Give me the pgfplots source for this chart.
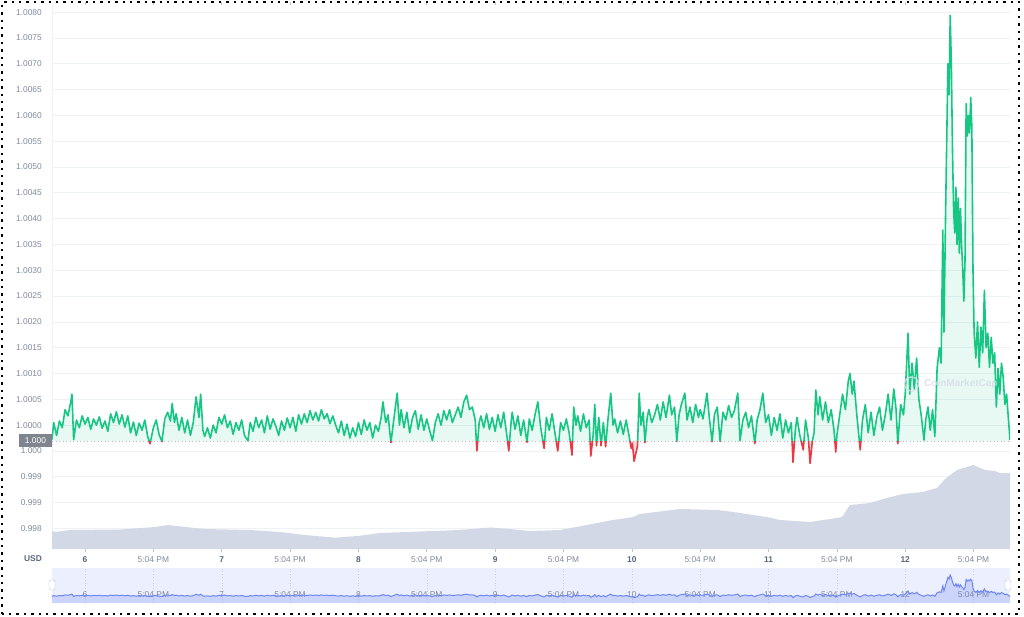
\documentclass[border=0pt]{standalone}
\usepackage{fontspec}
\setmainfont{Liberation Sans}
\usepackage{pgfplots}
\pgfplotsset{compat=1.18}
\usepackage{pgfplotstable}

\definecolor{cmcgreen}{HTML}{16C784}
\definecolor{cmcred}{HTML}{EA3943}
\definecolor{gridc}{HTML}{EFF2F5}
\definecolor{labc}{HTML}{808A9D}
\definecolor{dayc}{HTML}{58667E}
\definecolor{volc}{HTML}{D3D8E6}
\definecolor{navbg}{HTML}{EBEFFE}
\definecolor{navline}{HTML}{6F86F5}
\definecolor{boxc}{HTML}{80848E}
\definecolor{wmark}{HTML}{D8DCE8}

\newcommand\dd[1]{\textcolor{dayc}{\bfseries #1}}
\newcommand\tpm{\textcolor{labc}{5:04 PM}}

% price, x in hours from day 6 00:00
\pgfplotstableread{
h p
-5.8 0.99972
-5.5 1.00005
-5.0 0.99980
-4.5 1.00008
-4.0 0.99995
-3.5 1.00030
-3.0 1.00018
-2.5 1.00045
-2.3 1.00060
-2.0 0.99972
-1.5 1.00010
-1.0 0.99995
-0.5 1.00018
0.0 1.00002
0.5 1.00015
1.0 0.99992
1.5 1.00012
2.0 1.00000
2.5 1.00016
3.0 0.99994
3.5 1.00008
4.0 0.99988
4.5 1.00022
5.0 1.00005
5.5 1.00026
6.0 1.00002
6.5 1.00020
7.0 0.99996
7.5 1.00018
8.0 0.99985
8.5 1.00006
9.0 0.99980
9.5 1.00004
10.0 0.99990
10.5 1.00010
11.0 0.99978
11.4 0.99964
12.0 0.99995
12.5 1.00010
13.0 0.99982
13.5 0.99968
14.0 1.00012
14.5 1.00025
15.0 1.00008
15.3 1.00042
15.7 1.00005
16.0 1.00022
16.5 0.99990
17.0 1.00015
17.5 0.99985
18.0 1.00010
18.5 0.99980
19.0 1.00005
19.5 1.00055
20.0 1.00015
20.3 1.00060
20.7 0.99990
21.0 0.99978
21.5 0.99995
22.0 0.99975
22.5 1.00000
23.0 0.99985
23.5 1.00015
24.0 1.00002
24.5 1.00020
25.0 0.99995
25.5 1.00008
26.0 0.99982
26.5 1.00005
27.0 0.99990
27.5 1.00010
28.0 0.99980
28.6 0.99970
29.0 1.00005
29.5 0.99988
30.0 1.00015
30.5 0.99995
31.0 1.00010
31.5 0.99985
32.0 1.00018
32.5 0.99992
33.0 1.00012
33.5 0.99998
34.0 0.99980
34.5 1.00008
35.0 0.99990
35.5 1.00014
36.0 0.99995
36.5 1.00015
37.0 0.99988
37.5 1.00020
38.0 1.00002
38.5 1.00022
39.0 1.00005
39.5 1.00028
40.0 1.00010
40.5 1.00025
41.0 1.00008
41.5 1.00030
42.0 1.00012
42.5 1.00022
43.0 1.00003
43.5 1.00018
44.0 1.00000
44.5 0.99985
45.0 1.00008
45.5 0.99980
46.0 1.00002
46.5 0.99975
47.0 0.99995
47.5 0.99978
48.0 1.00005
48.5 0.99982
49.0 1.00010
49.5 0.99990
50.0 1.00005
50.5 0.99975
51.0 1.00000
51.5 0.99988
52.0 1.00015
52.3 1.00045
52.8 1.00005
53.2 1.00020
53.7 0.99966
54.2 1.00010
54.8 1.00062
55.2 1.00000
55.5 1.00030
56.0 0.99995
56.5 1.00025
57.0 0.99985
57.5 1.00015
58.0 1.00028
58.5 0.99992
59.0 1.00020
59.5 0.99990
60.0 1.00012
60.5 0.99990
61.0 0.99970
61.5 1.00005
62.0 1.00022
62.5 1.00000
63.0 1.00028
63.5 1.00010
64.0 1.00030
64.5 1.00005
65.0 1.00020
65.5 1.00035
66.0 1.00015
66.5 1.00045
67.0 1.00058
67.5 1.00030
68.0 1.00035
68.5 1.00010
68.8 0.99950
69.2 1.00005
69.5 1.00018
70.0 0.99995
70.5 1.00022
71.0 0.99992
71.5 1.00015
72.0 0.99988
72.5 1.00020
73.0 0.99995
73.5 1.00025
74.0 0.99985
74.4 0.99950
74.8 1.00005
75.0 1.00025
75.5 0.99992
76.0 1.00018
76.5 0.99980
77.0 1.00010
77.6 0.99967
78.0 1.00012
78.5 0.99990
79.0 1.00020
79.5 1.00045
80.0 0.99995
80.6 0.99955
81.0 1.00015
81.5 0.99990
82.0 1.00022
82.5 0.99985
83.0 0.99950
83.5 1.00005
84.0 0.99990
84.5 1.00012
85.0 0.99985
85.5 0.99942
85.8 1.00035
86.2 1.00000
86.5 1.00018
87.0 0.99988
87.5 1.00022
88.0 0.99995
88.5 1.00010
88.8 0.99940
89.2 0.99980
89.5 1.00040
89.8 0.99960
90.2 1.00015
90.6 0.99960
91.0 1.00005
91.4 0.99958
91.8 1.00010
92.3 1.00062
92.7 1.00000
93.0 1.00012
93.5 0.99985
94.0 1.00008
94.5 0.99982
95.0 1.00010
95.5 0.99980
95.9 0.99955
96.1 0.99965
96.4 0.99930
96.7 0.99945
97.0 0.99960
97.3 1.00062
97.6 1.00000
98.0 1.00025
98.3 0.99966
98.7 1.00015
99.0 1.00030
99.5 1.00005
100.0 1.00020
100.5 1.00040
101.0 1.00010
101.5 1.00045
102.0 1.00015
102.6 1.00058
103.0 1.00020
103.5 1.00035
103.9 0.99969
104.3 1.00020
104.7 1.00040
105.3 1.00062
105.7 1.00010
106.2 1.00035
106.7 1.00005
107.2 1.00040
107.7 1.00015
108.0 1.00030
108.5 1.00012
109.2 1.00062
109.6 1.00015
110.1 0.99968
110.5 1.00020
111.0 1.00035
111.5 0.99969
112.0 1.00025
112.5 1.00010
113.0 1.00038
113.5 1.00015
114.0 1.00028
114.6 1.00062
115.0 0.99970
115.5 1.00010
116.0 1.00025
116.5 0.99995
117.0 1.00018
117.6 0.99964
118.0 1.00010
118.5 1.00030
119.0 1.00062
119.5 1.00005
120.0 1.00020
120.5 0.99980
121.0 1.00015
121.5 0.99990
122.0 1.00022
122.5 0.99975
123.0 1.00010
123.5 0.99985
124.0 1.00005
124.3 0.99928
124.7 0.99990
125.0 1.00015
125.5 0.99980
126.1 0.99952
126.5 1.00010
127.0 0.99975
127.3 0.99926
127.7 0.99970
128.0 0.99985
128.3 1.00068
128.7 1.00020
129.0 1.00055
129.5 1.00010
130.0 1.00045
130.5 1.00005
131.0 1.00030
131.5 0.99990
131.8 0.99948
132.0 0.99980
132.5 1.00020
133.0 1.00060
133.5 1.00030
134.0 1.00085
134.3 1.00100
134.7 1.00060
135.0 1.00085
135.5 1.00020
136.1 0.99952
136.5 1.00010
137.0 1.00040
137.5 0.99985
138.0 1.00025
138.5 0.99980
139.0 1.00015
139.5 1.00035
140.0 0.99990
140.5 1.00020
141.0 1.00060
141.5 1.00010
142.0 1.00070
142.4 1.00030
142.7 0.99964
143.2 1.00040
143.7 1.00020
144.0 1.00060
144.5 1.00178
144.8 1.00060
145.2 1.00120
145.6 1.00070
146.0 1.00130
146.4 1.00050
146.8 1.00020
147.3 0.99971
147.6 1.00010
148.0 1.00035
148.4 0.99990
148.8 1.00030
149.2 0.99978
149.6 1.00110
150.0 1.00150
150.3 1.00120
150.6 1.00378
150.8 1.00180
151.1 1.00420
151.3 1.00560
151.5 1.00700
151.7 1.00640
151.9 1.00794
152.1 1.00700
152.3 1.00533
152.5 1.00416
152.7 1.00372
152.9 1.00461
153.1 1.00350
153.3 1.00440
153.5 1.00333
153.7 1.00420
153.9 1.00350
154.1 1.00300
154.3 1.00240
154.5 1.00320
154.7 1.00623
154.9 1.00560
155.1 1.00600
155.3 1.00566
155.5 1.00635
155.7 1.00577
155.9 1.00300
156.1 1.00180
156.4 1.00130
156.7 1.00200
157.0 1.00112
157.3 1.00190
157.6 1.00140
157.9 1.00261
158.2 1.00150
158.5 1.00178
158.8 1.00112
159.1 1.00170
159.4 1.00120
159.7 1.00140
160.0 1.00035
160.3 1.00110
160.6 1.00060
160.9 1.00120
161.2 1.00093
161.5 1.00040
161.8 1.00060
162.1 1.00015
162.4 0.99971
}\price

% volume, arbitrary units
\pgfplotstableread{
h v
-5.8 18
-5.3 17
-2.6 19
6.1 19.5
12.3 22
14.6 24
17.6 22
21.1 20
29.0 19
34.2 17
38.6 14
43.9 11.3
48.3 13.3
51.8 16
58.8 17.5
65.8 19
71.1 21.5
74.6 20
78.1 18
83.4 19
88.1 24
92.7 29
96.2 32
97.4 35
104.5 40
111.0 39
113.8 37
117.3 34
119.7 32
122.0 29
127.3 27
130.8 30
132.9 32
134.3 44
137.8 46
140.8 51
143.6 55
147.1 57
149.6 61
151.0 70
153.1 79
156.0 84
158.0 79
159.8 78
160.6 76
162.4 76
}\volume

\begin{document}
\begin{tikzpicture}
\useasboundingbox (0,0) rectangle (1024pt,616pt);

% grid and labels
\begin{axis}[
  at={(52pt,67pt)}, anchor=south west, scale only axis,
  width=958pt, height=544pt,
  xmin=-5.8, xmax=162.4, ymin=0.99760, ymax=1.00814,
  axis line style={draw=none},
  ymajorgrids, grid style={gridc, line width=0.8pt},
  ytick={0.998,0.9985,0.999,0.9995,1,1.0005,1.001,1.0015,1.002,1.0025,1.003,1.0035,1.004,1.0045,1.005,1.0055,1.006,1.0065,1.007,1.0075,1.008},
  yticklabels={0.998,0.999,0.999,1.000,1.0000,1.0005,1.0010,1.0015,1.0020,1.0025,1.0030,1.0035,1.0040,1.0045,1.0050,1.0055,1.0060,1.0065,1.0070,1.0075,1.0080},
  xtick={0,12,...,156},
  xticklabels={\dd{6},\tpm,\dd{7},\tpm,\dd{8},\tpm,\dd{9},\tpm,\dd{10},\tpm,\dd{11},\tpm,\dd{12},\tpm},
  tick label style={font=\fontsize{8.4}{10}\selectfont},
  yticklabel style={text=labc, anchor=east, inner sep=0pt, xshift=-7pt},
  xticklabel style={anchor=base, inner sep=0pt, yshift=-10pt},
  ytick style={draw=none},
  xtick style={draw=labc!50, line width=0.6pt},
  major tick length=3pt, tick align=outside,
]
\addplot[draw=none] coordinates {(0,1)};
\draw[gridc, line width=0.8pt] (axis cs:-5.8,0.99760) -- (axis cs:-5.8,1.00814);
\draw[labc!55, line width=0.8pt, dash pattern=on 1pt off 2.5pt] (axis cs:-5.8,0.99969) -- (axis cs:162.4,0.99969);
\end{axis}

% volume
\begin{axis}[
  at={(52pt,67pt)}, anchor=south west, scale only axis,
  width=958pt, height=544pt,
  xmin=-5.8, xmax=162.4, ymin=0, ymax=544, hide axis,
]
\addplot[fill=volc, draw=none] table[x=h,y=v]{\volume} \closedcycle;
\end{axis}

% price above the opening level
\begin{axis}[
  at={(52pt,174.87pt)}, anchor=south west, scale only axis,
  width=958pt, height=436.13pt,
  xmin=-5.8, xmax=162.4, ymin=0.99969, ymax=1.00814, hide axis,
]
\addplot[fill=cmcgreen, fill opacity=0.1, draw=none] table[x=h,y=p]{\price}
  -- (axis cs:162.4,0.99969) -- (axis cs:-5.8,0.99969) -- cycle;
\addplot[cmcgreen, line width=1.6pt, line join=round] table[x=h,y=p]{\price};
\end{axis}

% price below the opening level
\begin{axis}[
  at={(52pt,67pt)}, anchor=south west, scale only axis,
  width=958pt, height=107.87pt,
  xmin=-5.8, xmax=162.4, ymin=0.99760, ymax=0.99969, hide axis,
]
\addplot[fill=cmcred, fill opacity=0.15, draw=none] table[x=h,y=p]{\price}
  -- (axis cs:162.4,0.99969) -- (axis cs:-5.8,0.99969) -- cycle;
\addplot[cmcred, line width=1.6pt, line join=round] table[x=h,y=p]{\price};
\end{axis}

% watermark, semi-transparent over the line
\begin{scope}[opacity=0.85]
\draw[wmark, line width=1.5pt] (911.5pt,232pt) circle (7pt);
\node[anchor=west, text=wmark, font=\fontsize{10}{12}\selectfont\bfseries, inner sep=0pt] at (924pt,232pt) {CoinMarketCap};
\end{scope}

% 1.000 marker and USD
\node[fill=boxc, text=white, minimum width=33pt, minimum height=13pt, inner sep=0pt, font=\fontsize{8.4}{10}\selectfont] at (35.5pt,175.5pt) {1.000};
\node[text=dayc, font=\fontsize{8.4}{10}\selectfont\bfseries] at (33pt,57pt) {USD};

% navigator
\begin{axis}[
  at={(52pt,13pt)}, anchor=south west, scale only axis,
  width=958pt, height=35pt,
  xmin=-5.8, xmax=162.4, ymin=0.99720, ymax=1.01063,
  axis line style={draw=none},
  axis background/.style={fill=navbg},
  ytick=\empty,
  xtick={0,12,...,156},
  xticklabels={6,5:04 PM,7,5:04 PM,8,5:04 PM,9,5:04 PM,10,5:04 PM,11,5:04 PM,12,5:04 PM},
  xticklabel style={text=labc, font=\fontsize{8.4}{10}\selectfont, anchor=base, inner sep=0pt, yshift=6pt},
  major tick length=0pt,
  xmajorgrids, grid style={labc!40, dash pattern=on 0.8pt off 2pt},
]
\addplot[fill=navline, fill opacity=0.25, draw=none] table[x=h,y=p]{\price}
  -- (axis cs:162.4,0.99720) -- (axis cs:-5.8,0.99720) -- cycle;
\addplot[navline, line width=1pt] table[x=h,y=p]{\price};
\end{axis}
\draw[fill=white, draw=labc!50, rounded corners=1.5pt] (49pt,26pt) rectangle (55pt,36pt);
\draw[fill=white, draw=labc!50, rounded corners=1.5pt] (1005pt,26pt) rectangle (1011pt,36pt);

% dotted frame
\draw[black, line width=2.2pt, dash pattern=on 2.4pt off 5pt] (2pt,2pt) rectangle (1019pt,614pt);
\end{tikzpicture}
\end{document}
